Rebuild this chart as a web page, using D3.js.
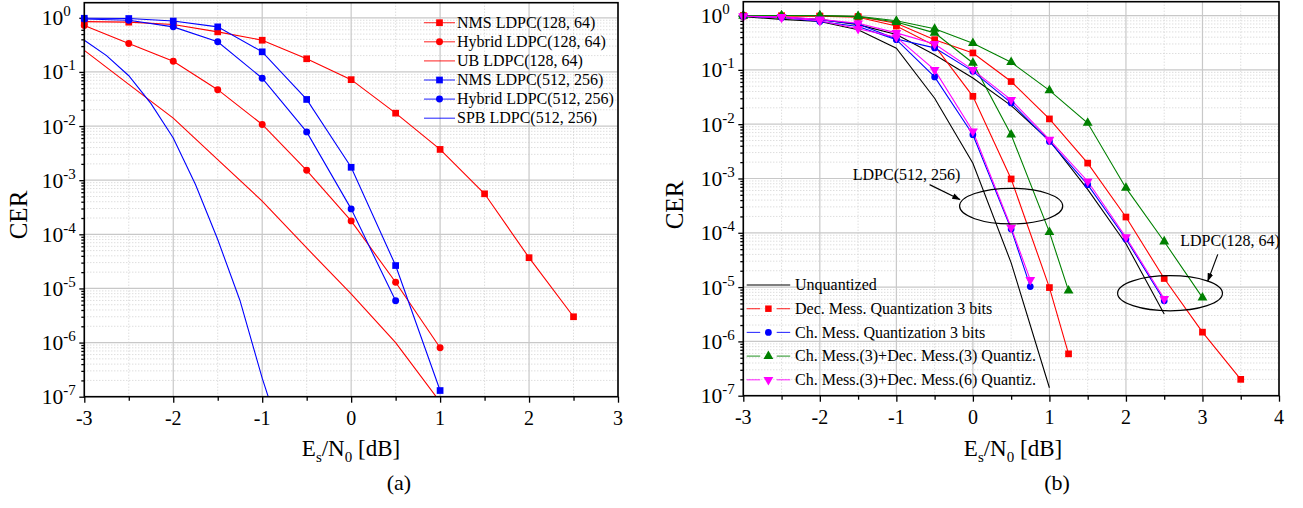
<!DOCTYPE html>
<html>
<head>
<meta charset="utf-8">
<script src="https://cdn.jsdelivr.net/npm/d3@7"></script>
<style>
body { margin: 0; background: #fff; }
text { font-family: "Liberation Serif", "Times New Roman", serif; fill: #000; }
</style>
</head>
<body>
<svg id="chart" width="1303" height="508"></svg>
<script>
// ---------- panel (a) data ----------
const snrA = [-3, -2.5, -2, -1.5, -1, -0.5, 0, 0.5, 1, 1.5, 2, 2.5];
const snrSPB = [-3, -2.75, -2.5, -2.25, -2, -1.75, -1.5, -1.25, -1, -0.75];
const nms128 = [0.85, 0.83, 0.75, 0.55, 0.385, 0.175, 0.072, 0.0173, 0.0037, 5.6e-4, 3.7e-5, 3.0e-6];
const hybrid128 = [0.72, 0.335, 0.158, 0.047, 0.0107, 1.52e-3, 1.77e-4, 1.3e-5, 8e-7];
const ub128 = [0.25, 0.059, 0.014, 2.4e-3, 4.1e-4, 5.6e-5, 7.9e-6, 1.0e-6, 8e-8];
const nms512 = [0.98, 0.97, 0.87, 0.68, 0.235, 0.031, 1.73e-3, 2.65e-5, 1.3e-7];
const hybrid512 = [0.95, 0.9, 0.68, 0.36, 0.0765, 7.8e-3, 2.95e-4, 5.9e-6];
const spb512 = [0.385, 0.2, 0.085, 0.026, 0.006, 8.3e-4, 8e-5, 6e-6, 2.2e-7, 1.2e-8];
const legendA = ["NMS LDPC(128, 64)", "Hybrid LDPC(128, 64)", "UB LDPC(128, 64)",
                 "NMS LDPC(512, 256)", "Hybrid LDPC(512, 256)", "SPB LDPC(512, 256)"];

// ---------- panel (b) data ----------
const snrB = [-3, -2.5, -2, -1.5, -1, -0.5, 0, 0.5, 1, 1.5, 2, 2.5, 3, 3.5];
const snrB125 = [-3, -2.5, -2, -1.5, -1, -0.5, 0, 0.5, 1, 1.25];
const snrB075 = [-3, -2.5, -2, -1.5, -1, -0.5, 0, 0.5, 0.75];
const unq512 = [0.95, 0.85, 0.78, 0.55, 0.25, 0.03, 1.9e-3, 2.8e-5, 1.4e-7];
const unq128 = [0.97, 0.93, 0.85, 0.68, 0.45, 0.19, 0.071, 0.022, 5e-3, 6.3e-4, 6.3e-5, 3.2e-6];
const dec512 = [0.99, 0.98, 0.97, 0.93, 0.64, 0.28, 0.0326, 9.8e-4, 9.8e-6, 5.9e-7];
const dec128 = [0.99, 0.99, 0.98, 0.96, 0.72, 0.36, 0.205, 0.061, 0.0125, 1.92e-3, 1.95e-4, 1.44e-5, 1.48e-6, 2.0e-7];
const ch512 = [0.97, 0.92, 0.78, 0.63, 0.36, 0.074, 6.4e-3, 1.17e-4, 1.02e-5];
const ch128 = [0.97, 0.93, 0.83, 0.7, 0.37, 0.254, 0.094, 0.0246, 4.8e-3, 7.7e-4, 7.7e-5, 5.6e-6];
const chDec3_512 = [1.0, 1.0, 0.99, 0.95, 0.76, 0.48, 0.134, 6.4e-3, 1.03e-4, 8.6e-6];
const chDec3_128 = [1.0, 1.0, 1.0, 0.97, 0.8, 0.57, 0.31, 0.138, 0.042, 0.0105, 6.7e-4, 6.9e-5, 6.4e-6];
const chDec6_512 = [0.97, 0.92, 0.8, 0.57, 0.4, 0.1, 7.4e-3, 1.25e-4, 1.36e-5];
const chDec6_128 = [0.97, 0.95, 0.85, 0.72, 0.48, 0.3, 0.1, 0.028, 5.2e-3, 8.9e-4, 8.3e-5, 6.1e-6];
const legendB = ["Unquantized", "Dec. Mess. Quantization 3 bits", "Ch. Mess. Quantization 3 bits",
                 "Ch. Mess.(3)+Dec. Mess.(3) Quantiz.", "Ch. Mess.(3)+Dec. Mess.(6) Quantiz."];

const RED = "#ff0000", BLUE = "#0000ff", GREEN = "#008000", MAGENTA = "#ff00ff";
const SERIF = "Liberation Serif, Times New Roman, serif";

const svg = d3.select("#chart");
svg.append("rect").attr("width", 1303).attr("height", 508).attr("fill", "#fff");

const defs = svg.append("defs");
defs.append("marker")
	.attr("id", "arrow")
	.attr("viewBox", "0 0 10 10")
	.attr("refX", 9).attr("refY", 5)
	.attr("markerWidth", 7).attr("markerHeight", 7)
	.attr("orient", "auto")
	.append("path").attr("d", "M0,1.5 L10,5 L0,8.5 Z").attr("fill", "#000");

function makePanel(id, box, xDomain, yDomain) {
	const x = d3.scaleLinear().domain(xDomain).range([box.left, box.right]);
	const y = d3.scaleLog().domain(yDomain).range([box.bottom, box.top]);
	const g = svg.append("g").attr("id", id);

	defs.append("clipPath").attr("id", id + "-clip").append("rect")
		.attr("x", box.left).attr("y", box.top)
		.attr("width", box.right - box.left).attr("height", box.bottom - box.top);

	const majorX = d3.range(xDomain[0], xDomain[1] + 0.01, 1);
	const minorX = d3.range(xDomain[0] + 0.5, xDomain[1], 1);
	const decades = d3.range(-7, 1).map(p => Math.pow(10, p));
	const minorY = [];
	decades.forEach(v => {
		for (let k = 2; k < 10; ++k) {
			if (k * v < yDomain[1]) minorY.push(k * v);
		}
	});

	// grid: dotted minor, solid major
	const grid = g.append("g");
	grid.selectAll(".mx").data(minorX).join("line")
		.attr("x1", d => x(d)).attr("x2", d => x(d))
		.attr("y1", box.top).attr("y2", box.bottom)
		.attr("stroke", "#cfcfcf").attr("stroke-dasharray", "1,2");
	grid.selectAll(".my").data(minorY).join("line")
		.attr("x1", box.left).attr("x2", box.right)
		.attr("y1", d => y(d)).attr("y2", d => y(d))
		.attr("stroke", "#cfcfcf").attr("stroke-dasharray", "1,2");
	grid.selectAll(".gx").data(majorX).join("line")
		.attr("x1", d => x(d)).attr("x2", d => x(d))
		.attr("y1", box.top).attr("y2", box.bottom)
		.attr("stroke", "#c8c8c8").attr("stroke-width", 1.2);
	grid.selectAll(".gy").data(decades).join("line")
		.attr("x1", box.left).attr("x2", box.right)
		.attr("y1", d => y(d)).attr("y2", d => y(d))
		.attr("stroke", "#c8c8c8").attr("stroke-width", 1.2);

	// axes: tick marks from d3 axes, labels drawn by hand
	const axes = g.append("g").attr("class", "axes");
	axes.append("g").attr("transform", `translate(0,${box.bottom})`)
		.call(d3.axisBottom(x).tickValues(majorX).tickSize(6).tickFormat(""));
	axes.append("g").attr("transform", `translate(0,${box.bottom})`)
		.call(d3.axisBottom(x).tickValues(minorX).tickSize(4).tickFormat(""));
	axes.append("g").attr("transform", `translate(${box.left},0)`)
		.call(d3.axisLeft(y).tickValues(decades).tickSize(5).tickFormat(""));
	axes.append("g").attr("transform", `translate(${box.left},0)`)
		.call(d3.axisLeft(y).tickValues(minorY).tickSize(3).tickFormat(""));
	axes.selectAll(".domain").remove();
	axes.selectAll(".tick line").attr("stroke", "#000").attr("stroke-width", 1.3);

	g.append("g").selectAll("text").data(majorX).join("text")
		.attr("x", d => x(d)).attr("y", box.bottom + 28.5)
		.attr("text-anchor", "middle")
		.style("font-family", SERIF).style("font-size", "20px")
		.text(d => String(d));

	// y labels 10^n, left aligned like the original
	const yl = g.append("g").selectAll("text").data(decades).join("text")
		.attr("x", box.left - 42.5).attr("y", d => y(d) + 7.5)
		.attr("text-anchor", "start")
		.style("font-family", SERIF).style("font-size", "21.5px");
	yl.append("tspan").text("10");
	yl.append("tspan").attr("dy", -9).style("font-size", "15px")
		.text(d => String(Math.round(Math.log10(d))));

	const clipped = g.append("g").attr("clip-path", `url(#${id}-clip)`);
	const marks = g.append("g");
	const top = g.append("g");

	top.append("rect")
		.attr("x", box.left).attr("y", box.top)
		.attr("width", box.right - box.left).attr("height", box.bottom - box.top)
		.attr("fill", "none").attr("stroke", "#000").attr("stroke-width", 1.6);

	return { g, x, y, box, clipped, marks, top };
}

function drawSeries(p, xs, ys, color, sym, size, rot) {
	const line = d3.line().x((d, i) => p.x(xs[i])).y(d => p.y(d));
	p.clipped.append("path").datum(ys)
		.attr("d", line).attr("fill", "none")
		.attr("stroke", color).attr("stroke-width", 1.1);
	if (sym) {
		p.marks.append("g").selectAll("path").data(ys).join("path")
			.attr("transform", (d, i) => `translate(${p.x(xs[i])},${p.y(d)}) rotate(${rot || 0})`)
			.attr("d", d3.symbol().type(sym).size(size))
			.attr("fill", color);
	}
}

function axisTitles(p, cx, cerX, cerY, tag, tagX) {
	const t = p.g.append("text").attr("x", cx).attr("y", 456)
		.attr("text-anchor", "middle").style("font-size", "23px");
	t.append("tspan").text("E");
	t.append("tspan").attr("dy", 6).style("font-size", "15px").text("s");
	t.append("tspan").attr("dy", -6).text("/N");
	t.append("tspan").attr("dy", 6).style("font-size", "15px").text("0");
	t.append("tspan").attr("dy", -6).text(" [dB]");

	p.g.append("text")
		.attr("transform", `translate(${cerX},${cerY}) rotate(-90)`)
		.attr("text-anchor", "middle").attr("dy", "0.35em")
		.style("font-size", "25px").text("CER");

	p.g.append("text").attr("x", tagX).attr("y", 490)
		.attr("text-anchor", "middle").style("font-size", "22px").text(tag);
}

// ---------- panel (a) ----------
const pa = makePanel("pa", { left: 84.3, right: 618, top: 2.7, bottom: 396.7 }, [-3, 3], [1e-7, 1.9]);

drawSeries(pa, snrA, ub128, RED, null);
drawSeries(pa, snrSPB, spb512, BLUE, null);
drawSeries(pa, snrA, nms128, RED, d3.symbolSquare, 45);
drawSeries(pa, snrA, hybrid128, RED, d3.symbolCircle, 38);
drawSeries(pa, snrA, nms512, BLUE, d3.symbolSquare, 45);
drawSeries(pa, snrA, hybrid512, BLUE, d3.symbolCircle, 38);
axisTitles(pa, 351, 18, 215, "(a)", 399);

const legSymA = [d3.symbolSquare, d3.symbolCircle, null, d3.symbolSquare, d3.symbolCircle, null];
const legColA = [RED, RED, RED, BLUE, BLUE, BLUE];
legendA.forEach((name, i) => {
	const row = pa.top.append("g").attr("transform", `translate(424,${22.7 + i * 19.1})`);
	row.append("line").attr("x1", 0).attr("x2", 31)
		.attr("stroke", legColA[i]).attr("stroke-width", 1.1).attr("opacity", 0.8);
	if (legSymA[i]) {
		row.append("path").attr("transform", "translate(15.5,0)")
			.attr("d", d3.symbol().type(legSymA[i]).size(legSymA[i] === d3.symbolSquare ? 45 : 38)())
			.attr("fill", legColA[i]);
	}
	row.append("text").attr("x", 33).attr("dy", "0.33em").style("font-size", "16px").text(name);
});

// ---------- panel (b) ----------
const pb = makePanel("pb", { left: 743.3, right: 1279, top: 1.7, bottom: 395.7 }, [-3, 4], [1e-7, 1.8]);

drawSeries(pb, snrB, unq512, "#000", null);
drawSeries(pb, snrB, unq128, "#000", null);
drawSeries(pb, snrB125, dec512, RED, d3.symbolSquare, 45);
drawSeries(pb, snrB, dec128, RED, d3.symbolSquare, 45);
drawSeries(pb, snrB125, chDec3_512, GREEN, d3.symbolTriangle, 42);
drawSeries(pb, snrB, chDec3_128, GREEN, d3.symbolTriangle, 42);
drawSeries(pb, snrB075, ch512, BLUE, d3.symbolCircle, 36);
drawSeries(pb, snrB, ch128, BLUE, d3.symbolCircle, 36);
drawSeries(pb, snrB075, chDec6_512, MAGENTA, d3.symbolTriangle, 42, 180);
drawSeries(pb, snrB, chDec6_128, MAGENTA, d3.symbolTriangle, 42, 180);
axisTitles(pb, 1013, 674, 205, "(b)", 1057);

const legSymB = [null, d3.symbolSquare, d3.symbolCircle, d3.symbolTriangle, d3.symbolTriangle];
const legColB = ["#000", RED, BLUE, GREEN, MAGENTA];
const legRotB = [0, 0, 0, 0, 180];
legendB.forEach((name, i) => {
	const row = pb.top.append("g").attr("transform", `translate(746.7,${285 + i * 23.7})`);
	if (legSymB[i]) {
		row.append("line").attr("x1", 0).attr("x2", 13.5).attr("stroke", legColB[i]).attr("stroke-width", 1.1).attr("opacity", 0.8);
		row.append("line").attr("x1", 30).attr("x2", 43.5).attr("stroke", legColB[i]).attr("stroke-width", 1.1).attr("opacity", 0.8);
		row.append("path")
			.attr("transform", `translate(21.7,0) rotate(${legRotB[i]})`)
			.attr("d", d3.symbol().type(legSymB[i]).size(legSymB[i] === d3.symbolCircle ? 36 : 42)())
			.attr("fill", legColB[i]);
	} else {
		row.append("line").attr("x1", 0).attr("x2", 43.5).attr("stroke", legColB[i]).attr("stroke-width", 1.1);
	}
	row.append("text").attr("x", 48.3).attr("dy", "0.33em").style("font-size", "16px").text(name);
});

// annotations (data coordinates)
const ellipses = [
	{ e: 0.5, cer: 3.1e-4, rxE: 0.674, ryDec: 0.328 },
	{ e: 2.576, cer: 7.7e-6, rxE: 0.685, ryDec: 0.323 }
];
const labels = [
	{ text: "LDPC(512, 256)", e: -1.57, cer: 9.5e-4, from: [-0.566, 7.7e-4], to: [-0.17, 4.1e-4] },
	{ text: "LDPC(128, 64)", e: 2.71, cer: 5.8e-5, from: [3.2, 4.0e-5], to: [3.07, 1.3e-5] }
];
ellipses.forEach(el => {
	pb.top.append("ellipse")
		.attr("cx", pb.x(el.e)).attr("cy", pb.y(el.cer))
		.attr("rx", pb.x(el.e + el.rxE) - pb.x(el.e))
		.attr("ry", pb.y(el.cer / Math.pow(10, el.ryDec)) - pb.y(el.cer))
		.attr("fill", "none").attr("stroke", "#000").attr("stroke-width", 1.2);
});
labels.forEach(lb => {
	pb.top.append("text").attr("x", pb.x(lb.e)).attr("y", pb.y(lb.cer))
		.style("font-size", "16px").text(lb.text);
	pb.top.append("line")
		.attr("x1", pb.x(lb.from[0])).attr("y1", pb.y(lb.from[1]))
		.attr("x2", pb.x(lb.to[0])).attr("y2", pb.y(lb.to[1]))
		.attr("stroke", "#000").attr("stroke-width", 1.2)
		.attr("marker-end", "url(#arrow)");
});
</script>
</body>
</html>
